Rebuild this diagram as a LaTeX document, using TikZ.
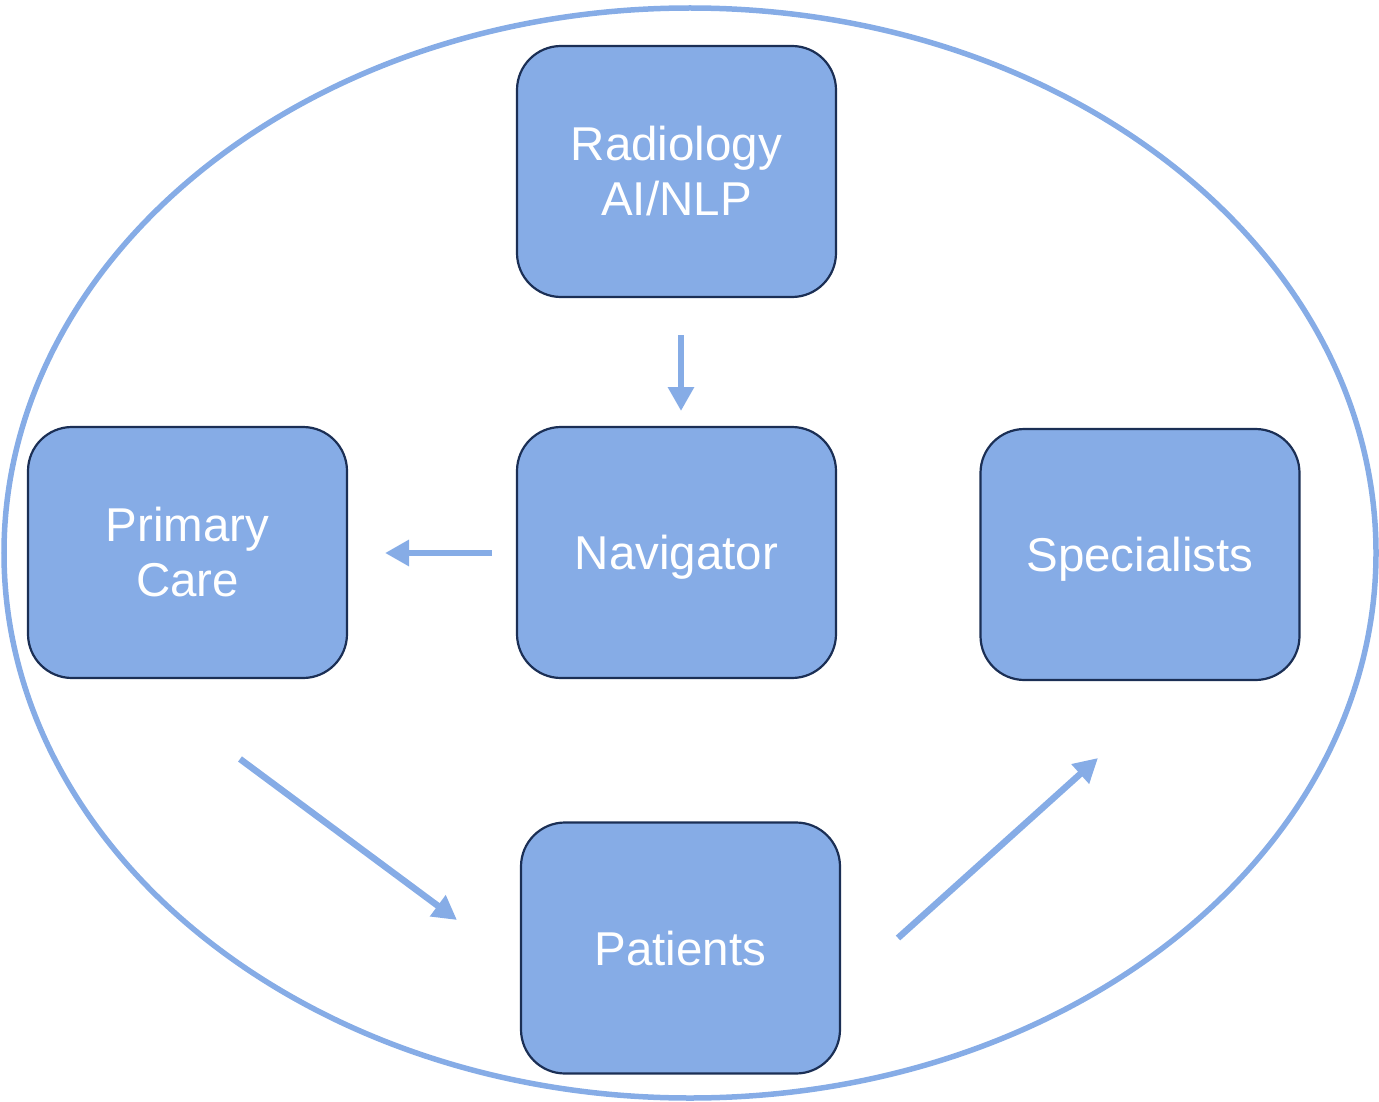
\documentclass[tikz,border=0pt]{standalone}
\usepackage{fontspec}
\setmainfont{Liberation Sans}
\usetikzlibrary{arrows.meta}
\definecolor{blu}{HTML}{86ACE6}
\definecolor{navy}{HTML}{1B2F55}
\begin{document}
\begin{tikzpicture}[x=1pt,y=-1pt,
  box/.style={draw=navy,line width=2.2pt,fill=blu,rounded corners=44pt,
    minimum width=319pt,minimum height=251pt,text=white,align=center,
    font=\fontsize{47.5}{55}\selectfont,inner sep=0pt},
  one/.style={box,text depth=0pt},
  conn/.style={draw=blu,line width=6.5pt,-{Triangle[length=24pt,width=25pt]}}]
\useasboundingbox (0,0) rectangle (1379,1102);
\draw[blu,line width=5.5pt] (690,553) ellipse [x radius=686,y radius=545];
\node[box] (rad) at (676.5,171.5) {Radiology\\AI/NLP};
\node[one] (nav) at (676.5,552.5) {Navigator};
\node[box] (prim) at (187.5,552.5) {Primary\\Care};
\node[one] (spec) at (1140,554.5) {Specialists};
\node[one] (pat) at (680.5,948) {Patients};
\coordinate (a1s) at (681,335);
\coordinate (a1e) at (681,411);
\coordinate (a2s) at (492,553);
\coordinate (a2e) at (385,553);
\coordinate (a3s) at (240,759);
\coordinate (a3e) at (457,920);
\coordinate (a4s) at (898,938);
\coordinate (a4e) at (1098,758);
\draw[conn] (a1s) -- (a1e);
\draw[conn] (a2s) -- (a2e);
\draw[conn] (a3s) -- (a3e);
\draw[conn] (a4s) -- (a4e);
\end{tikzpicture}
\end{document}
